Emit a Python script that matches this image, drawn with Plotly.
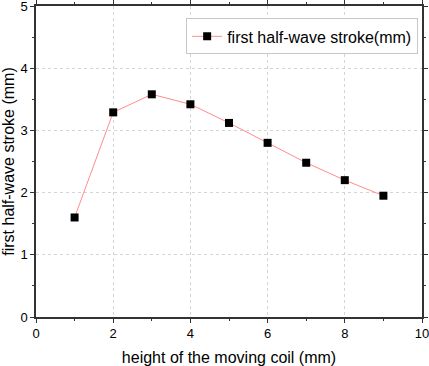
import plotly.graph_objects as go

x_vals = [1, 2, 3, 4, 5, 6, 7, 8, 9]
y_vals = [1.60, 3.29, 3.58, 3.42, 3.12, 2.80, 2.48, 2.20, 1.95]
series_name = "first half-wave stroke(mm)"
x_title = "height of the moving coil (mm)"
y_title = "first half-wave stroke (mm)"

fig = go.Figure()
fig.add_trace(go.Scatter(
    x=x_vals, y=y_vals, mode="lines+markers", name=series_name,
    line=dict(color="#ff8c8c", width=1),
    marker=dict(symbol="square", size=8, color="black"),
))

axis_common = dict(
    showline=True, linecolor="#333333", linewidth=1.5, mirror="allticks",
    ticks="outside", ticklen=4, tickwidth=1, tickcolor="#333333",
    showgrid=True, gridcolor="#d4d4d4", griddash="dot", gridwidth=1,
    zeroline=False, automargin=False, ticklabeloverflow="allow",
    tickfont=dict(family="Liberation Sans, Arial", size=13, color="black"),
    title_font=dict(family="Liberation Sans, Arial", size=16, color="black"),
)

fig.update_xaxes(range=[0, 10], dtick=2, title_text=x_title, title_standoff=12,
                 minor=dict(ticks="outside", dtick=1, ticklen=2, tickcolor="#333333", showgrid=False),
                 **axis_common)
fig.update_yaxes(range=[0, 5], dtick=1, title_text=y_title, title_standoff=9,
                 minor=dict(ticks="outside", dtick=0.5, ticklen=2, tickcolor="#333333", showgrid=False),
                 **axis_common)

fig.update_layout(
    width=429, height=366,
    margin=dict(l=36, r=7, t=6, b=49),
    plot_bgcolor="white", paper_bgcolor="white",
    showlegend=True,
    legend=dict(x=0.99, y=0.96, xanchor="right", yanchor="top",
                bgcolor="white", bordercolor="#c8c8c8", borderwidth=1,
                font=dict(family="Liberation Sans, Arial", size=16, color="black"),
                itemwidth=30, tracegroupgap=0),
)

fig.write_html("out.html", config={"displayModeBar": False},
               post_script="document.body.style.margin='0';document.body.style.overflow='hidden';")
